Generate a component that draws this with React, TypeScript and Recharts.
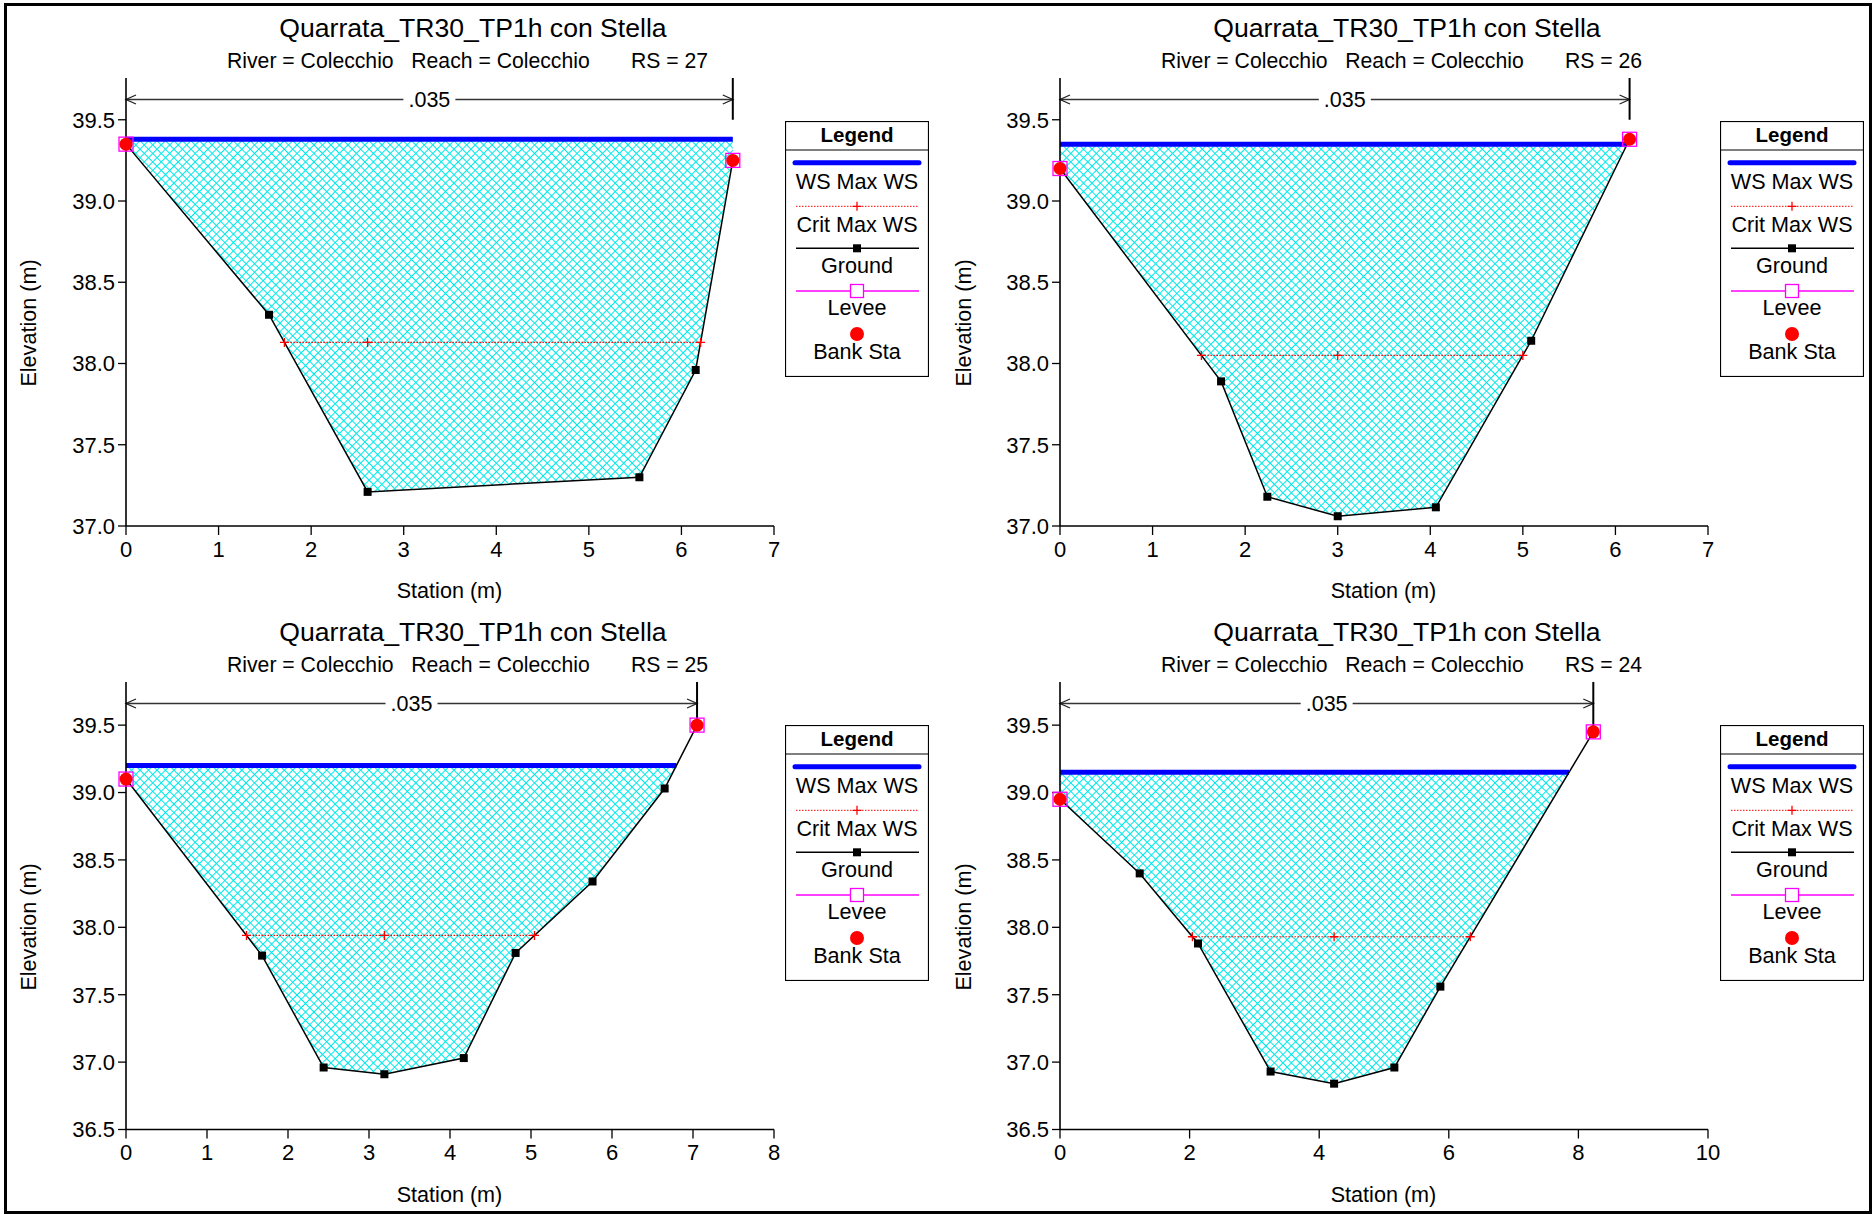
import React from 'react';
import { ComposedChart, XAxis, YAxis, Line, Area, Scatter, ReferenceLine, Legend } from 'recharts';

// ---------- Data ----------
const PLAN_TITLE = 'Quarrata_TR30_TP1h con Stella';
const RIVER_NAME = 'Colecchio';
const REACH_NAME = 'Colecchio';
const riverStations = ['27', '26', '25', '24'];
const manningN = ['.035', '.035', '.035', '.035'];

// RS = 27
const rs27Station = [0, 1.545, 2.61, 5.546, 6.154, 6.555];
const rs27Elev = [39.35, 38.3, 37.21, 37.3, 37.96, 39.25];
const rs27Ws = 39.38;
const rs27Crit = 38.13;

// RS = 26
const rs26Station = [0, 1.74, 2.24, 3.0, 4.06, 5.09, 6.153];
const rs26Elev = [39.2, 37.89, 37.18, 37.06, 37.115, 38.14, 39.38];
const rs26Ws = 39.35;
const rs26Crit = 38.05;

// RS = 25
const rs25Station = [0, 1.68, 2.44, 3.19, 4.17, 4.81, 5.76, 6.65, 7.05];
const rs25Elev = [39.1, 37.79, 36.96, 36.91, 37.03, 37.81, 38.34, 39.03, 39.5];
const rs25Ws = 39.2;
const rs25Crit = 37.94;

// RS = 24
const rs24Station = [0, 1.23, 2.13, 3.25, 4.23, 5.16, 5.87, 8.23];
const rs24Elev = [38.95, 38.4, 37.88, 36.93, 36.84, 36.96, 37.56, 39.45];
const rs24Ws = 39.15;
const rs24Crit = 37.93;

// axes
const xDomains: [number, number][] = [[0, 7], [0, 7], [0, 8], [0, 10]];
const xMajorTicks27 = [0, 1, 2, 3, 4, 5, 6, 7];
const xMajorTicks26 = [0, 1, 2, 3, 4, 5, 6, 7];
const xMajorTicks25 = [0, 1, 2, 3, 4, 5, 6, 7, 8];
const xMajorTicks24 = [0, 2, 4, 6, 8, 10];
const xMinorSteps = [0.2, 0.2, 0.5, 0.4];
const yMajorTicksTop = [37.0, 37.5, 38.0, 38.5, 39.0, 39.5];
const yMajorTicksBottom = [36.5, 37.0, 37.5, 38.0, 38.5, 39.0, 39.5];
const yDomains: [number, number][] = [[37, 39.757], [37, 39.757], [36.5, 39.82], [36.5, 39.82]];
const yMinorStep = 0.1;
const bankDividerBottom = [39.5, 39.5, 39.46, 39.41];

// ---------- Layout (pixels) ----------
const PANEL_W = 937;
const PANEL_H = 607;
const layouts = [
  { ox: 0, oy: 0, plotL: 125, plotR: 774, plotT: 78, plotB: 526, titleX: 473, subX: 227 },
  { ox: 935, oy: 0, plotL: 1059, plotR: 1708, plotT: 78, plotB: 526, titleX: 472, subX: 226 },
  { ox: 0, oy: 604, plotL: 125, plotR: 774, plotT: 682, plotB: 1129.5, titleX: 473, subX: 227 },
  { ox: 935, oy: 604, plotL: 1059, plotR: 1708, plotT: 682, plotB: 1129.5, titleX: 472, subX: 226 },
];
const ARROW_OFFSET = 21.5;
const FONT = '"Liberation Sans", Arial, Helvetica, sans-serif';
const TICK_FONT = 22;
const LEGEND_FONT = 21.6;
const AXIS_TITLE_FONT = 21.6;

type Pt = { x: number; y: number };

function steps(a: number, b: number, s: number): number[] {
  const out: number[] = [];
  const n = Math.round((b - a) / s);
  for (let i = 0; i <= n; i++) out.push(Math.round((a + i * s) * 1000) / 1000);
  return out;
}

function buildSection(st: number[], el: number[], ws: number, crit: number) {
  const ground: Pt[] = st.map((x, i) => ({ x, y: el[i] }));
  const water: { x: number; range: [number, number] }[] = [];
  for (let i = 0; i < st.length; i++) {
    if (i > 0) {
      const a = el[i - 1] <= ws;
      const b = el[i] <= ws;
      if (a !== b) {
        const t = (ws - el[i - 1]) / (el[i] - el[i - 1]);
        water.push({ x: st[i - 1] + t * (st[i] - st[i - 1]), range: [ws, ws] });
      }
    }
    if (el[i] <= ws) water.push({ x: st[i], range: [el[i], ws] });
  }
  const wsLine: Pt[] = [
    { x: water[0].x, y: ws },
    { x: water[water.length - 1].x, y: ws },
  ];
  let iMin = 0;
  el.forEach((v, i) => {
    if (v < el[iMin]) iMin = i;
  });
  const cross = (i0: number, i1: number) => {
    const t = (crit - el[i0]) / (el[i1] - el[i0]);
    return st[i0] + t * (st[i1] - st[i0]);
  };
  let left = st[0];
  let right = st[st.length - 1];
  for (let i = iMin; i > 0; i--) {
    if (el[i - 1] >= crit && el[i] <= crit) {
      left = cross(i - 1, i);
      break;
    }
  }
  for (let i = iMin; i < st.length - 1; i++) {
    if (el[i] <= crit && el[i + 1] >= crit) {
      right = cross(i, i + 1);
      break;
    }
  }
  const critLine: Pt[] = [
    { x: left, y: crit },
    { x: st[iMin], y: crit },
    { x: right, y: crit },
  ];
  return {
    ground,
    water,
    wsLine,
    critLine,
    interior: ground.slice(1, -1),
    banks: [ground[0], ground[ground.length - 1]],
  };
}

const sections = [
  buildSection(rs27Station, rs27Elev, rs27Ws, rs27Crit),
  buildSection(rs26Station, rs26Elev, rs26Ws, rs26Crit),
  buildSection(rs25Station, rs25Elev, rs25Ws, rs25Crit),
  buildSection(rs24Station, rs24Elev, rs24Ws, rs24Crit),
];
const xMajorTicks = [xMajorTicks27, xMajorTicks26, xMajorTicks25, xMajorTicks24];

// ---------- shapes ----------
const groundSquare = (p: any) => (
  <rect x={p.cx - 4} y={p.cy - 4} width={8} height={8} fill="#000" />
);
const leveeSquare = (p: any) => (
  <rect x={p.cx - 7} y={p.cy - 7} width={14} height={14} fill="none" stroke="#FF00FF" strokeWidth={1.3} />
);
const bankCircle = (p: any) => <circle cx={p.cx} cy={p.cy} r={6.5} fill="#FF0000" />;
const critPlus = (p: any) => (
  <path
    key={`cp-${p.index}`}
    d={`M${p.cx - 4.5},${p.cy}h9M${p.cx},${p.cy - 4.5}v9`}
    stroke="#FF0000"
    strokeWidth={1.3}
    fill="none"
  />
);

function RoughnessArrow(props: any) {
  const { x1, y1, x2, text } = props;
  const mid = (x1 + x2) / 2;
  const y = y1;
  return (
    <g>
      <line x1={x1} y1={y} x2={x2} y2={y} stroke="#333" strokeWidth={1.3} />
      <path d={`M${x1 + 10},${y - 4.5}L${x1},${y}L${x1 + 10},${y + 4.5}`} stroke="#222" strokeWidth={1.3} fill="none" />
      <path d={`M${x2 - 10},${y - 4.5}L${x2},${y}L${x2 - 10},${y + 4.5}`} stroke="#222" strokeWidth={1.3} fill="none" />
      <rect x={mid - 26} y={y - 10} width={52} height={20} fill="#fff" />
      <text x={mid} y={y} dy="0.36em" textAnchor="middle" fontSize={21.5} fill="#000" fontFamily={FONT}>
        {text}
      </text>
    </g>
  );
}

function LegendBox() {
  const cx = 72;
  const fs = LEGEND_FONT;
  return (
    <svg width={144} height={256} style={{ display: 'block', fontFamily: FONT }}>
      <rect x={0.5} y={0.5} width={143} height={255} fill="#fff" stroke="#000" strokeWidth={1.2} />
      <text x={cx} y={21} textAnchor="middle" fontWeight="bold" fontSize={20.5} fill="#000">Legend</text>
      <line x1={0} x2={144} y1={29} y2={29} stroke="#000" strokeWidth={1.2} />
      <line x1={10} x2={134} y1={41.7} y2={41.7} stroke="#0000FF" strokeWidth={5} strokeLinecap="round" />
      <text x={cx} y={68} textAnchor="middle" fontSize={fs} fill="#000">WS Max WS</text>
      <line x1={11} x2={134} y1={85.3} y2={85.3} stroke="#FF0000" strokeWidth={1} strokeDasharray="1.5 1.5" />
      <path d={`M${cx - 4.5},85.3h9M${cx},80.8v9`} stroke="#FF0000" strokeWidth={1.3} />
      <text x={cx} y={110.7} textAnchor="middle" fontSize={fs} fill="#000">Crit Max WS</text>
      <line x1={11} x2={134} y1={127.3} y2={127.3} stroke="#000" strokeWidth={1.5} />
      <rect x={cx - 4} y={123.3} width={8} height={8} fill="#000" />
      <text x={cx} y={152.3} textAnchor="middle" fontSize={fs} fill="#000">Ground</text>
      <line x1={11} x2={134} y1={170} y2={170} stroke="#FF00FF" strokeWidth={1.3} />
      <rect x={cx - 6.5} y={163.5} width={13} height={13} fill="#fff" stroke="#FF00FF" strokeWidth={1.3} />
      <text x={cx} y={194} textAnchor="middle" fontSize={fs} fill="#000">Levee</text>
      <circle cx={cx} cy={213} r={7} fill="#FF0000" />
      <text x={cx} y={238} textAnchor="middle" fontSize={fs} fill="#000">Bank Sta</text>
    </svg>
  );
}

function SectionChart({ idx }: { idx: number }) {
  const s = sections[idx];
  const L = layouts[idx];
  const [xMin, xMax] = xDomains[idx];
  const [yMin, yMax] = yDomains[idx];
  // axes take 1px each (height / width)
  const margin = {
    top: L.plotT - L.oy,
    left: L.plotL - L.ox - 1,
    right: PANEL_W - (L.plotR - L.ox),
    bottom: PANEL_H - (L.plotB - L.oy) - 2,
  };
  const plotH = L.plotB - L.plotT;
  const arrowY = yMax - (ARROW_OFFSET / plotH) * (yMax - yMin);
  const bankR = s.banks[1].x;
  const yMajor = idx < 2 ? yMajorTicksTop : yMajorTicksBottom;
  const xMinor = steps(xMin, xMax, xMinorSteps[idx]);
  const yMinor = steps(yMin, Math.floor(yMax * 10) / 10, yMinorStep);
  const hatchId = `hatch${idx}`;
  const axisLine = { stroke: '#000', strokeWidth: 1.6 };
  const tickLine = { stroke: '#000', strokeWidth: 1.3 };
  const n = manningN[idx];
  const plotCenterX = (L.plotL + L.plotR) / 2 - L.ox;

  return (
    <div style={{ position: 'absolute', left: L.ox, top: L.oy, width: PANEL_W, height: PANEL_H }}>
      <ComposedChart width={PANEL_W} height={PANEL_H} margin={margin} style={{ fontFamily: FONT }}>
        <defs>
          <pattern id={hatchId} patternUnits="userSpaceOnUse" width={6} height={6} patternTransform="rotate(45)">
            <rect x={0} y={0} width={6} height={1.4} fill="#00E8E8" shapeRendering="crispEdges" />
            <rect x={0} y={0} width={1.4} height={6} fill="#00E8E8" shapeRendering="crispEdges" />
          </pattern>
        </defs>
        <XAxis
          type="number"
          dataKey="x"
          domain={[xMin, xMax]}
          ticks={xMajorTicks[idx]}
          interval={0}
          height={1}
          tickSize={9}
          tickMargin={6}
          stroke="#000"
          axisLine={axisLine}
          tickLine={tickLine}
          tick={{ fill: '#000', fontSize: TICK_FONT }}
        />
        <XAxis
          xAxisId="minor"
          type="number"
          dataKey="x"
          domain={[xMin, xMax]}
          ticks={xMinor}
          interval={0}
          height={1}
          tickSize={5}
          stroke="#000"
          axisLine={false}
          tickLine={tickLine}
          tick={false}
        />
        <YAxis
          type="number"
          domain={[yMin, yMax]}
          ticks={yMajor}
          interval={0}
          width={1}
          tickSize={8}
          tickMargin={3}
          stroke="#000"
          tickFormatter={(v: number) => v.toFixed(1)}
          axisLine={axisLine}
          tickLine={tickLine}
          tick={{ fill: '#000', fontSize: TICK_FONT }}
        />
        <YAxis
          yAxisId="minor"
          type="number"
          domain={[yMin, yMax]}
          ticks={yMinor}
          interval={0}
          width={1}
          tickSize={5}
          stroke="#000"
          axisLine={false}
          tickLine={tickLine}
          tick={false}
        />
        <Area
          data={s.water}
          dataKey="range"
          type="linear"
          stroke="none"
          fill={`url(#${hatchId})`}
          fillOpacity={1}
          isAnimationActive={false}
          activeDot={false}
          dot={false}
        />
        <Line data={s.wsLine} dataKey="y" type="linear" stroke="#0000FF" strokeWidth={5} dot={false} activeDot={false} isAnimationActive={false} />
        <Line data={s.ground} dataKey="y" type="linear" stroke="#000" strokeWidth={1.5} dot={false} activeDot={false} isAnimationActive={false} />
        <Line
          data={s.critLine}
          dataKey="y"
          type="linear"
          stroke="#FF0000"
          strokeWidth={1.2}
          strokeDasharray="1.5 1.5"
          dot={critPlus}
          activeDot={false}
          isAnimationActive={false}
        />
        <Scatter data={s.interior} dataKey="y" shape={groundSquare} isAnimationActive={false} />
        <ReferenceLine
          segment={[{ x: 0, y: arrowY }, { x: bankR, y: arrowY }]}
          ifOverflow="visible"
          shape={(p: any) => <RoughnessArrow {...p} text={n} />}
        />
        <ReferenceLine
          segment={[{ x: bankR, y: yMax }, { x: bankR, y: bankDividerBottom[idx] }]}
          ifOverflow="visible"
          stroke="#000"
          strokeWidth={2}
        />
        <Scatter data={s.banks} dataKey="y" shape={leveeSquare} isAnimationActive={false} />
        <Scatter data={s.banks} dataKey="y" shape={bankCircle} isAnimationActive={false} />
        <Legend
          layout="horizontal"
          verticalAlign="middle"
          align="center"
          content={() => <LegendBox />}
          wrapperStyle={{ left: 785, top: 121, width: 144, height: 256 }}
        />
      </ComposedChart>
      <svg
        width={PANEL_W}
        height={PANEL_H}
        style={{ position: 'absolute', left: 0, top: 0, pointerEvents: 'none', fontFamily: FONT }}
      >
        <text x={L.titleX} y={37} textAnchor="middle" fontSize={26.6} fill="#000">{PLAN_TITLE}</text>
        <text x={L.subX} y={67.7} fontSize={21.2} fill="#000" style={{ whiteSpace: 'pre' }}>
          {`River = ${RIVER_NAME}   Reach = ${REACH_NAME}       RS = ${riverStations[idx]}`}
        </text>
        <text x={plotCenterX} y={598} textAnchor="middle" fontSize={AXIS_TITLE_FONT} fill="#000">Station (m)</text>
        <text x={36} y={323} textAnchor="middle" fontSize={AXIS_TITLE_FONT} fill="#000" transform="rotate(-90 36 323)">
          Elevation (m)
        </text>
      </svg>
    </div>
  );
}

export default function App() {
  return (
    <div
      style={{
        position: 'absolute',
        left: 0,
        top: 0,
        width: 1874,
        height: 1214,
        background: '#fff',
        overflow: 'hidden',
        fontFamily: FONT,
      }}
    >
      {[0, 1, 2, 3].map((i) => (
        <SectionChart key={i} idx={i} />
      ))}
      <div
        style={{
          position: 'absolute',
          left: 4,
          top: 3,
          width: 1868,
          height: 1211,
          border: '3px solid #000',
          boxSizing: 'border-box',
          pointerEvents: 'none',
        }}
      />
    </div>
  );
}
